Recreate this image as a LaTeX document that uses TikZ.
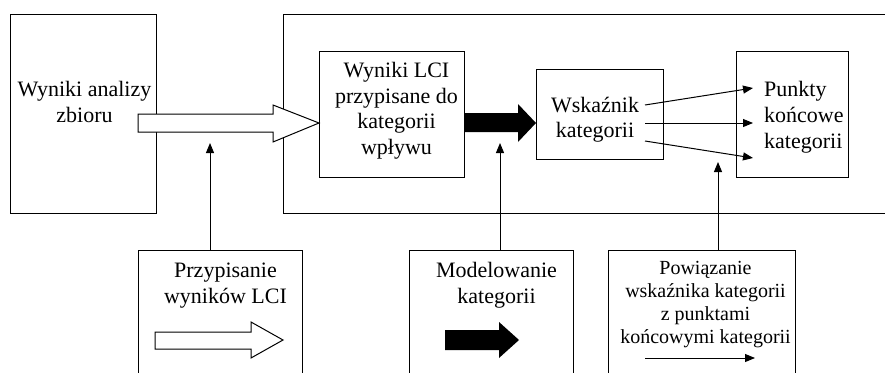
\documentclass[tikz,border=0pt]{standalone}
\usepackage{fontspec}
\setmainfont{Liberation Serif}
\usetikzlibrary{arrows.meta}
\begin{document}
\begin{tikzpicture}[x=1pt,y=-1pt,
  box/.style={draw, line width=1pt, rectangle, anchor=north west, inner sep=0pt, outer sep=0pt},
  lbl/.style={align=center, font=\fontsize{22}{25.5}\selectfont, inner sep=0pt, anchor=base},
  lblsmall/.style={align=center, font=\fontsize{20}{22.7}\selectfont, inner sep=0pt, anchor=base},
  conn/.style={line width=1pt, -{Triangle[length=10pt,width=8pt]}},
  hollowarrow/.style={draw, fill=white, line width=1pt, line join=miter},
  solidarrow/.style={fill=black}
]
\useasboundingbox (0,0) rectangle (885,372);
\clip (0,0) rectangle (885,372);

% frames
\node[box, minimum width=146pt, minimum height=199pt] (inv) at (10,14) {};
\node[box, minimum width=700pt, minimum height=199pt] (frame) at (283,14) {};
\node[box, minimum width=145pt, minimum height=126pt] (lci) at (319,51) {};
\node[box, minimum width=127pt, minimum height=90pt] (ind) at (536,69) {};
\node[box, minimum width=112pt, minimum height=126pt] (end) at (736,51) {};
\node[box, minimum width=164pt, minimum height=150pt] (assign) at (138,250) {};
\node[box, minimum width=164pt, minimum height=150pt] (model) at (409,250) {};
\node[box, minimum width=187pt, minimum height=150pt] (link) at (608,250) {};

% labels (anchored at the baseline of their last line)
\node[lbl] (t-inv) at (84.5,122) {Wyniki analizy\\zbioru};
\node[lbl] (t-lci) at (396.5,154) {Wyniki LCI\\przypisane do\\kategorii\\wpływu};
\node[lbl] (t-ind) at (595,137.5) {Wskaźnik\\kategorii};
\node[lbl, align=left, anchor=base west, font=\fontsize{22}{26}\selectfont] (t-end) at (764,148) {Punkty\\końcowe\\kategorii};
\node[lbl] (t-assign) at (225.5,303) {Przypisanie\\wyników LCI};
\node[lbl] (t-model) at (496.5,303) {Modelowanie\\kategorii};
\node[lblsmall] (t-link) at (705.5,343) {Powiązanie\\wskaźnika kategorii\\z punktami\\końcowymi kategorii};

% block arrows between the stages
\path[hollowarrow] (138,114) -- (273,114) -- (273,105) -- (lci.west |- 0,123) -- (273,142) -- (273,132) -- (138,132) -- cycle;
\path[solidarrow] (lci.east |- 0,113) -- (518,113) -- (518,104) -- (ind.west |- 0,123) -- (518,142) -- (518,132) -- (lci.east |- 0,132) -- cycle;

% indicator to endpoints
\coordinate (s1) at (645,105); \coordinate (e1) at (753,88);
\coordinate (s2) at (645,123); \coordinate (e2) at (753,123);
\coordinate (s3) at (645,141); \coordinate (e3) at (753,158);
\draw[conn] (s1) -- (e1);
\draw[conn] (s2) -- (e2);
\draw[conn] (s3) -- (e3);

% legend boxes pointing up to the arrows they explain
\coordinate (u1) at (210,143);
\coordinate (u2) at (500,143);
\coordinate (u3) at (718,162);
\draw[conn] (assign.north -| u1) -- (u1);
\draw[conn] (model.north -| u2) -- (u2);
\draw[conn] (link.north -| u3) -- (u3);

% legend symbols
\path[hollowarrow] (155,332) -- (251,332) -- (251,322) -- (283,340) -- (251,358) -- (251,349) -- (155,349) -- cycle;
\path[solidarrow] (445,330) -- (499,330) -- (499,322) -- (519,340) -- (499,358) -- (499,350) -- (445,350) -- cycle;
\coordinate (k1) at (645,358); \coordinate (k2) at (755,358);
\draw[conn] (k1) -- (k2);
\end{tikzpicture}
\end{document}
